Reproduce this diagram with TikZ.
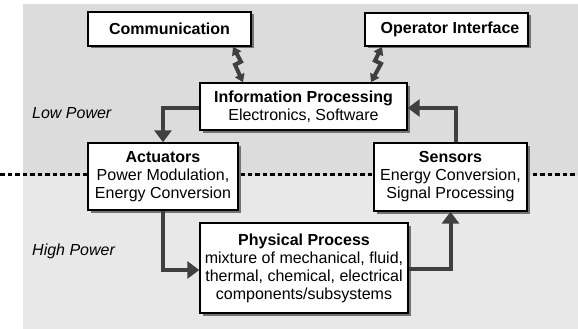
\documentclass[tikz,border=0pt]{standalone}
\usepackage{fontspec}
\setmainfont{Liberation Sans}
\usetikzlibrary{arrows.meta,shadows}
\definecolor{upbg}{HTML}{DCDCDC}
\definecolor{lowbg}{HTML}{E8E8E8}
\definecolor{arr}{HTML}{404040}
\begin{document}
\begin{tikzpicture}[x=1pt,y=-1pt,
  box/.style={draw=black, line width=1.4pt, fill=white, inner sep=0pt, align=center,
    font=\fontsize{16}{18}\selectfont,
    drop shadow={shadow xshift=2.5pt, shadow yshift=-2.5pt, fill=black!55, opacity=1}},
  lbl/.style={font=\fontsize{16}{18}\selectfont\itshape, anchor=west, inner sep=0pt},
  flow/.style={draw=arr, line width=4pt, -{Triangle[width=17pt,length=12pt]}},
  bolt/.style={draw=arr, line width=4pt, {Triangle[width=10pt,length=8pt]}-{Triangle[width=10pt,length=8pt]}}]
\useasboundingbox (0,0) rectangle (578,329);
% backgrounds
\fill[upbg] (23,4) rectangle (578,176);
\fill[lowbg] (23,176) rectangle (578,329);
% dotted divider
\coordinate (dl) at (0,174);
\coordinate (dr) at (578,174);
\draw[line width=3pt, dash pattern=on 4.5pt off 3pt] (dl) -- (dr);
% labels
\node[lbl] (low) at (32,113) {Low Power};
\node[lbl] (high) at (32,251) {High Power};
% boxes
\node[box, minimum width=163pt, minimum height=34pt] (comm) at (169.5,29) {\textbf{Communication}};
\node[box, minimum width=163pt, minimum height=33pt] (oper) at (446.5,29.5) {\hspace{7pt}\textbf{Operator Interface}};
\node[box, minimum width=207pt, minimum height=47pt] (info) at (303.5,106.5) {\textbf{Information Processing}\\Electronics, Software};
\node[box, minimum width=150pt, minimum height=67pt] (act) at (163,176.5) {\textbf{Actuators}\\Power Modulation,\\Energy Conversion};
\node[box, minimum width=153pt, minimum height=68pt] (sens) at (450.5,177) {\textbf{Sensors}\\Energy Conversion,\\Signal Processing};
\node[box, minimum width=208pt, minimum height=90pt] (phys) at (304,268) {\textbf{Physical Process}\\mixture of mechanical, fluid,\\thermal, chemical, electrical\\components/subsystems};
% flow arrows
\draw[flow] ([yshift=-1.5pt]info.west) -| (act.north);
\draw[flow] ([xshift=5.5pt]sens.north) |- ([yshift=-1.5pt]info.east);
\draw[flow] (act.south) |- ([yshift=-2pt]phys.west);
\draw[flow] ([yshift=-1pt]phys.east) -| (sens.south);
% lightning double arrows
\draw[bolt] ([xshift=63.5pt]comm.south) -- ++(8,15) -- ++(-6,3) -- ([xshift=-60.5pt]info.north);
\draw[bolt] ([xshift=-64.5pt]oper.south) -- ++(-7,14) -- ++(6,3) -- ([xshift=67.5pt]info.north);
\end{tikzpicture}
\end{document}
